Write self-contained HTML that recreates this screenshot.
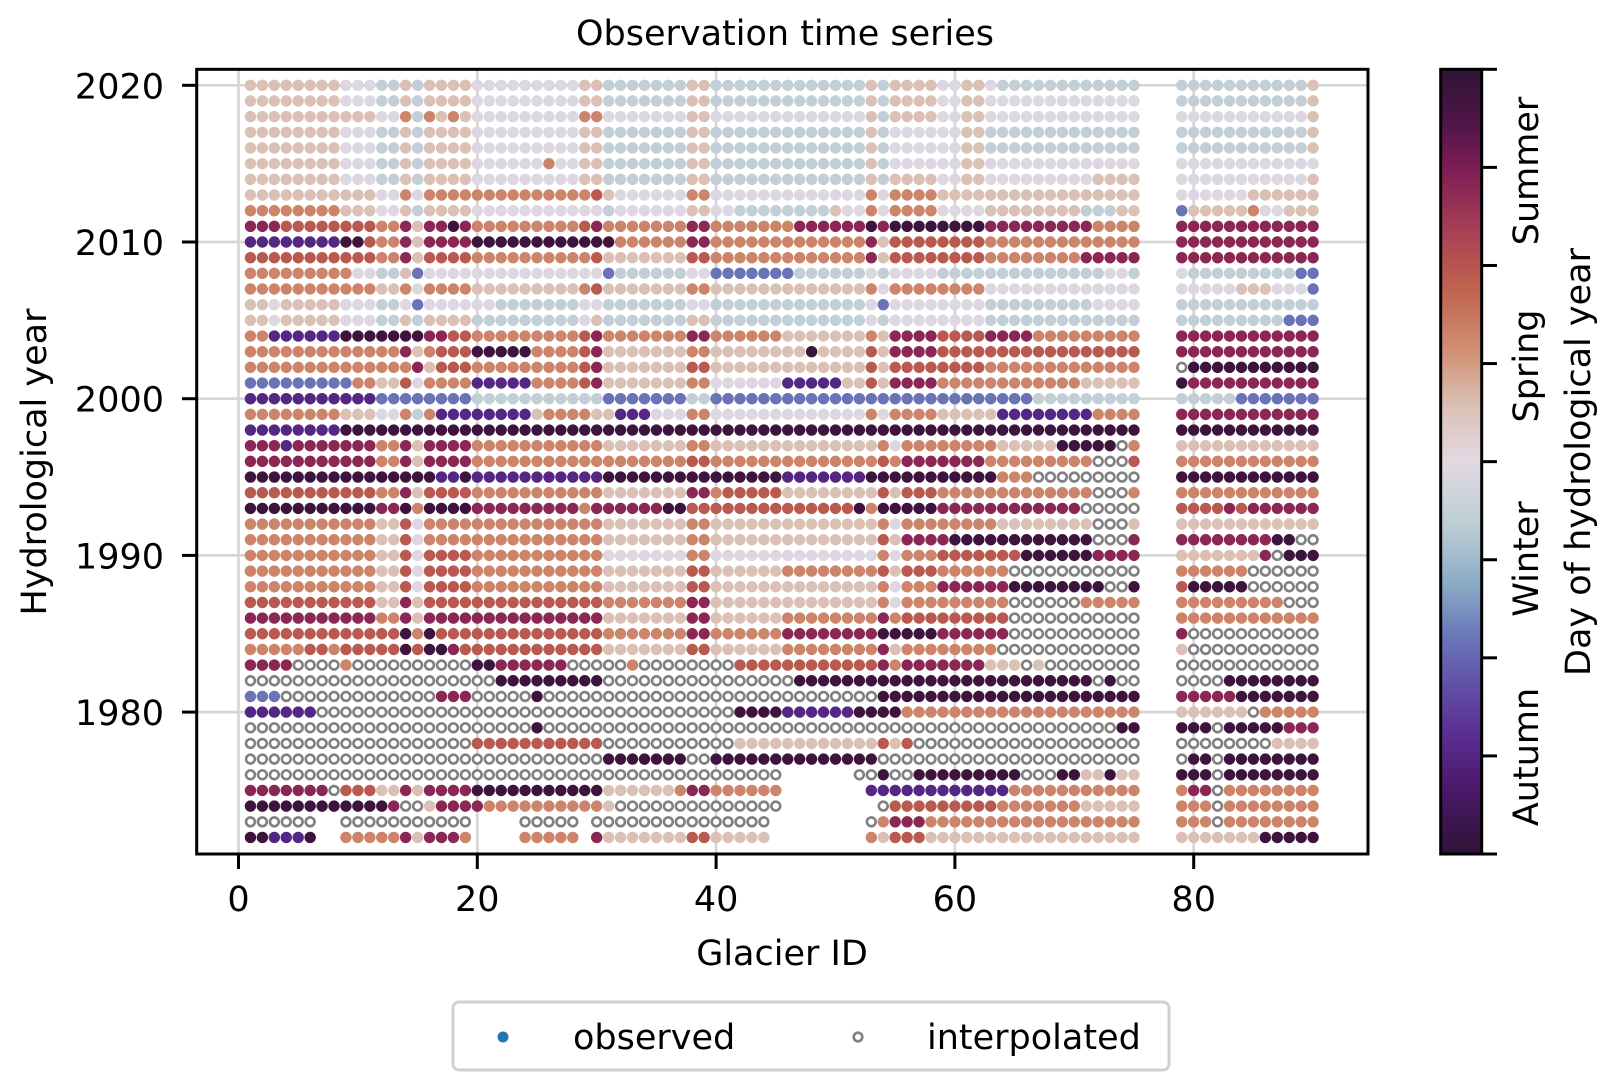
<!DOCTYPE html>
<html>
<head>
<meta charset="utf-8">
<style>
  html,body{margin:0;padding:0;background:#fff;}
  svg{display:block;}
  text{font-family:"DejaVu Sans","Liberation Sans",sans-serif;fill:#000;}
</style>
</head>
<body>
<svg id="chart" width="1615" height="1090" viewBox="0 0 1615 1090" xmlns="http://www.w3.org/2000/svg">
  <defs>
    <linearGradient id="cbgrad" x1="0" y1="1" x2="0" y2="0">
      <stop offset="0" stop-color="#2f1436"/>
      <stop offset="0.08" stop-color="#4a1868"/>
      <stop offset="0.15" stop-color="#5a2d91"/>
      <stop offset="0.22" stop-color="#6253a9"/>
      <stop offset="0.28" stop-color="#6a78b8"/>
      <stop offset="0.34" stop-color="#89a9c6"/>
      <stop offset="0.42" stop-color="#bccdd4"/>
      <stop offset="0.5" stop-color="#e2d9e2"/>
      <stop offset="0.57" stop-color="#dbc1b5"/>
      <stop offset="0.64" stop-color="#d09174"/>
      <stop offset="0.72" stop-color="#c0634f"/>
      <stop offset="0.8" stop-color="#a43d55"/>
      <stop offset="0.87" stop-color="#7f1e55"/>
      <stop offset="0.93" stop-color="#501548"/>
      <stop offset="1" stop-color="#2f1436"/>
    </linearGradient>
  </defs>
  <text x="785" y="45" font-size="35" text-anchor="middle">Observation time series</text>
  <g id="grid"></g>
  <g id="dots"></g>
  <rect x="196.7" y="69.3" width="1171.3" height="784.7" fill="none" stroke="#000" stroke-width="3"/>
  <g id="xticks"></g>
  <g id="yticks"></g>
  <text x="782" y="965" font-size="35" text-anchor="middle">Glacier ID</text>
  <text transform="translate(46,462) rotate(-90)" font-size="35" text-anchor="middle">Hydrological year</text>

  <g>
    <rect x="1440.7" y="69.3" width="41" height="784.7" fill="url(#cbgrad)" stroke="#000" stroke-width="3"/>
    <g id="cbticks"></g>
    <text transform="translate(1538,171) rotate(-90)" font-size="35" text-anchor="middle">Summer</text>
    <text transform="translate(1538,366) rotate(-90)" font-size="35" text-anchor="middle">Spring</text>
    <text transform="translate(1538,559) rotate(-90)" font-size="35" text-anchor="middle">Winter</text>
    <text transform="translate(1538,757) rotate(-90)" font-size="35" text-anchor="middle">Autumn</text>
    <text transform="translate(1590,462) rotate(-90)" font-size="35" text-anchor="middle">Day of hydrological year</text>
  </g>

  <g>
    <rect x="453" y="1002" width="716" height="68" rx="6" fill="#fff" stroke="#d0d0d0" stroke-width="3"/>
    <g>
      <circle cx="503" cy="1037" r="5.5" fill="#1f77b4"/>
      <text x="573" y="1049" font-size="35">observed</text>
    </g>
    <g>
      <circle cx="858" cy="1037" r="4.3" fill="#fff" stroke="#808080" stroke-width="2.6"/>
      <text x="927" y="1049" font-size="35">interpolated</text>
    </g>
  </g>
</svg>
<script>
const years = [2020,2019,2018,2017,2016,2015,2014,2013,2012,2011,2010,2009,2008,2007,2006,2005,2004,2003,2002,2001,2000,1999,1998,1997,1996,1995,1994,1993,1992,1991,1990,1989,1988,1987,1986,1985,1984,1983,1982,1981,1980,1979,1978,1977,1976,1975,1974,1973,1972];
const leftIds = [1,75];
const rightIds = [79,90];
const codeDays = {k:354, p:22, v:47, b:99, g:158, w:178, t:208, s:241, r:270, m:310};
const leftRuns = [
"t8 w3 g2 t1 g1 t4 w9 t2 g7 t2 g13 t1 g1 t4 w2 t2 w1 g12",
"t8 w3 g2 t1 g1 t4 w9 t2 g7 t2 g13 t1 g1 t4 w2 t2 w13",
"t8 t3 w2 s1 g1 s1 t1 s1 t1 w9 s2 w7 t2 w13 t1 g1 t4 w2 t2 w13",
"t8 w3 g2 t1 g1 t4 w9 t2 g7 t2 g13 t1 g1 w4 w2 t2 g13",
"t8 w3 g2 t1 g1 t4 w9 t2 g7 t2 g13 t1 g1 w4 w2 t2 g13",
"t8 w3 g2 t1 g1 t4 w6 s1 w2 t2 g7 t2 g13 t1 g1 w4 w2 t2 w13",
"t8 w3 g2 t1 g1 t4 w9 t2 g7 t2 g13 t1 g1 t4 w2 t2 w9 t4",
"t8 t3 w2 s1 w1 s4 s9 s1 r1 t1 w6 s2 w13 s1 w1 s4 t17",
"s8 t3 w2 t1 g1 t4 w9 w2 g1 w6 t2 w2 g8 t1 w2 s1 w1 s4 w4 t8 g3 t2",
"m3 r8 s2 m1 t1 m2 k1 m1 s9 r1 m1 s7 m2 s7 m6 k1 m1 k8 m9 s4",
"v8 k2 r1 s2 m1 t1 m4 k9 k3 s6 m2 s13 m1 t1 r8 s13",
"r11 s2 m1 t1 r4 s9 s1 r1 t7 r2 s13 m1 t1 r4 r4 s8 m5",
"s9 w2 g2 t1 b1 w4 w9 w2 b1 g6 w2 b7 g6 w1 g1 w4 g14 w2 g1",
"s11 t2 s1 w1 s4 t9 s1 r1 t7 s2 t13 s1 w1 s4 s4 w13",
"t2 w1 t5 w3 g2 w1 b1 w4 w2 g7 w2 g7 w2 g13 w1 b1 w4 w4 g9 w4",
"t2 w1 t5 w3 g2 t1 g1 t4 g9 w1 t1 g7 t2 g13 w1 g1 w4 w4 g13",
"s2 v6 k7 m1 m1 r2 s9 r1 m1 s7 m2 s6 t7 s1 t1 m4 r4 m4 s9",
"s13 m1 t1 s1 r3 k5 s4 r1 m1 t7 s2 t8 k1 t4 r1 t1 m4 r17",
"s14 m1 t1 r3 s9 r1 m1 t7 r2 t13 r1 t1 r4 r4 s13",
"b9 s2 t2 r1 w1 s4 v5 s4 r1 m1 t7 s2 w6 v5 t2 r1 t1 m4 s12 t5",
"v11 b8 g9 g2 b7 g2 b13 b1 b1 b4 b8 g9",
"s8 t3 w2 s1 g1 s1 v8 t1 s3 s1 t1 t1 v3 w3 s2 w13 s1 w1 s4 t5 v8 s4",
"v8 k67",
"m3 v1 m7 s2 m1 t1 m4 s11 t7 s2 t14 s1 w1 s8 t5 k5 i1 s1",
"m11 s2 m1 t1 m4 s11 s7 r2 s14 r1 s1 m7 s9 i3 r1",
"k16 v2 k1 v11 k15 v7 k11 s3 i9",
"r11 s2 m1 t1 r4 s11 t7 m2 s1 r5 t8 r1 t1 r3 s13 i3 s1",
"k11 m2 k1 s1 k4 m9 s1 m6 k2 r14 k1 s1 k5 m12 i5",
"s11 t2 r1 w1 s4 s11 t7 s2 t14 s1 w1 s8 t8 i3 t1",
"s11 t2 r1 w1 s4 s11 t7 s2 t14 r1 t1 m4 k12 i3 m1",
"s11 t2 r1 w1 r4 s11 w7 s2 w14 s1 w1 s3 r7 k6 m4",
"s11 t2 r1 w1 r4 s11 t7 r2 t6 s8 r1 t1 r3 s6 i11",
"s11 t2 r1 w1 r4 s11 t7 r2 t14 s1 w1 s3 m6 k8 i2 k1",
"r11 t2 m1 t1 r4 r11 s7 m2 t14 s1 w1 s9 i6 s5",
"m11 s2 m1 t1 m4 m11 t7 m2 t6 s8 m1 s1 r9 i11",
"r13 k1 s1 k1 r3 r11 s7 m2 s6 m8 k1 k4 m6 i11",
"s5 r2 s1 r5 k1 r1 k2 m1 r1 r11 t7 r2 t6 s8 m1 t1 s8 i12",
"m4 i4 s1 i10 k2 m6 i5 s1 i8 r12 m1 s1 m7 t3 i1 t1 i8",
"i21 k9 i16 k25 i1 k1 i2",
"b3 i13 m3 i5 k1 i28 k22",
"v6 i35 k4 v6 k4 s20",
"i24 k1 i48 k2",
"i19 r11 i11 t12 r1 t1 r1 i19",
"i30 k7 i2 k14 i22",
"i45 .6 i2 k1 i2 k9 i3 k2 t2 k1 t2",
"m7 i1 r3 t2 m1 t1 m4 k11 t6 s1 m2 s6 .7 v12 s11",
"k12 m1 i2 t1 m4 s10 t1 i14 .8 i1 r9 s7 t5",
"i6 .2 i11 .4 i5 .1 i15 .8 i1 s1 m3 s18",
"k2 v3 k1 .2 s5 m1 t1 m3 s1 .4 s5 .1 m1 t7 r2 t5 .8 s1 t1 r3 t18"
];
const rightRuns = [
"g11 t1","g11 t1","w11 t1","g11 t1","g11 t1","w12","w11 t1","w6 t6","b1 t5 s1 w2 t3","m12","m12","m12",
"w1 g9 b2","w5 t3 w3 b1","g12","g9 b3","m12","m12","i1 k11","k1 m11","g5 b7","m12","k12",
"t12","s12","k12","s12","r4 m1 r1 m6","t12","m8 k2 i2","t7 m1 i1 k3","s6 i6","r1 k5 i6","s9 i3","s12",
"m1 i11","t1 i11","i12","i4 k8","m5 k7","t6 i1 s5","k3 i1 k5 m3","i8 t4","i1 k2 i1 k8","k3 i1 k8",
"s1 m2 i1 s8","s3 i1 s8","s3 i1 s8","t7 k5"
];
const xTicks = [0,20,40,60,80];
const yTicks = [1980,1990,2000,2010,2020];

const NS = "http://www.w3.org/2000/svg";
function xScale(id){ return 238.5 + id*11.94; }
function yScale(yr){ return 85.3 + (2020-yr)*15.67; }
const cmapStops = [[0,"#2f1436"],[0.08,"#4a1868"],[0.15,"#5a2d91"],[0.22,"#6253a9"],[0.28,"#6a78b8"],[0.34,"#89a9c6"],[0.42,"#bccdd4"],[0.5,"#e2d9e2"],[0.57,"#dbc1b5"],[0.64,"#d09174"],[0.72,"#c0634f"],[0.8,"#a43d55"],[0.87,"#7f1e55"],[0.93,"#501548"],[1,"#2f1436"]];
function hex2rgb(h){ return [parseInt(h.substr(1,2),16),parseInt(h.substr(3,2),16),parseInt(h.substr(5,2),16)]; }
function cmap(day){
  const t = Math.max(0,Math.min(1,day/365));
  for(let i=1;i<cmapStops.length;i++){
    if(t<=cmapStops[i][0]){
      const a=cmapStops[i-1], b=cmapStops[i];
      const f=(t-a[0])/(b[0]-a[0]);
      const ca=hex2rgb(a[1]), cb=hex2rgb(b[1]);
      return "rgb("+ca.map((v,k)=>Math.round(v+(cb[k]-v)*f)).join(",")+")";
    }
  }
  return cmapStops[cmapStops.length-1][1];
}
function decode(runs, n){
  const out=[];
  runs.trim().split(/\s+/).forEach(tok=>{
    const c=tok[0], k=parseInt(tok.slice(1),10);
    for(let j=0;j<k;j++) out.push(c);
  });
  while(out.length<n) out.push(".");
  return out.slice(0,n);
}

const grid=document.getElementById("grid");
xTicks.forEach(v=>{
  const l=document.createElementNS(NS,"line");
  
  
  l.setAttribute("x1",xScale(v)); l.setAttribute("x2",xScale(v));
  l.setAttribute("y1",69.3); l.setAttribute("y2",854);
  l.setAttribute("stroke","#d6d6d6"); l.setAttribute("stroke-width","2.7");
  grid.appendChild(l);
});
yTicks.forEach(v=>{
  const l=document.createElementNS(NS,"line");
  
  
  l.setAttribute("x1",196.7); l.setAttribute("x2",1368);
  l.setAttribute("y1",yScale(v)); l.setAttribute("y2",yScale(v));
  l.setAttribute("stroke","#d6d6d6"); l.setAttribute("stroke-width","2.7");
  grid.appendChild(l);
});

const dots=document.getElementById("dots");
function drawDot(id, yr, code){
  if(code===".") return;
  const c=document.createElementNS(NS,"circle");
  c.setAttribute("cx",xScale(id).toFixed(2));
  c.setAttribute("cy",yScale(yr).toFixed(2));
  if(code==="i"){
    
    
    c.setAttribute("r","4.4");
    c.setAttribute("fill","#fff");
    c.setAttribute("stroke","#808080");
    c.setAttribute("stroke-width","2.6");
  } else {
    
    
    c.setAttribute("r","5.7");
    c.setAttribute("fill",cmap(codeDays[code]));
  }
  dots.appendChild(c);
}
years.forEach((yr,ri)=>{
  const nL=leftIds[1]-leftIds[0]+1;
  const L=decode(leftRuns[ri]||"",nL);
  L.forEach((c,j)=>drawDot(leftIds[0]+j,yr,c));
  const nR=rightIds[1]-rightIds[0]+1;
  const R=decode(rightRuns[ri]||"",nR);
  R.forEach((c,j)=>drawDot(rightIds[0]+j,yr,c));
});

const xt=document.getElementById("xticks");
xTicks.forEach(v=>{
  const l=document.createElementNS(NS,"line");
  
  
  l.setAttribute("x1",xScale(v)); l.setAttribute("x2",xScale(v));
  l.setAttribute("y1",854); l.setAttribute("y2",869);
  l.setAttribute("stroke","#000"); l.setAttribute("stroke-width","3");
  xt.appendChild(l);
  const t=document.createElementNS(NS,"text");
  
  
  t.setAttribute("x",xScale(v)); t.setAttribute("y",911);
  t.setAttribute("font-size","35"); t.setAttribute("text-anchor","middle");
  t.textContent=String(v);
  xt.appendChild(t);
});
const yt=document.getElementById("yticks");
yTicks.forEach(v=>{
  const l=document.createElementNS(NS,"line");
  
  
  l.setAttribute("x1",182); l.setAttribute("x2",196.7);
  l.setAttribute("y1",yScale(v)); l.setAttribute("y2",yScale(v));
  l.setAttribute("stroke","#000"); l.setAttribute("stroke-width","3");
  yt.appendChild(l);
  const t=document.createElementNS(NS,"text");
  
  
  t.setAttribute("x",164); t.setAttribute("y",yScale(v)+13);
  t.setAttribute("font-size","35"); t.setAttribute("text-anchor","end");
  t.textContent=String(v);
  yt.appendChild(t);
});
const cbt=document.getElementById("cbticks");
for(let i=0;i<=8;i++){
  const y=69.3+i*(854-69.3)/8;
  const l=document.createElementNS(NS,"line");
  
  
  l.setAttribute("x1",1481.7); l.setAttribute("x2",1497);
  l.setAttribute("y1",y); l.setAttribute("y2",y);
  l.setAttribute("stroke","#000"); l.setAttribute("stroke-width","3");
  cbt.appendChild(l);
}
</script>
</body>
</html>
